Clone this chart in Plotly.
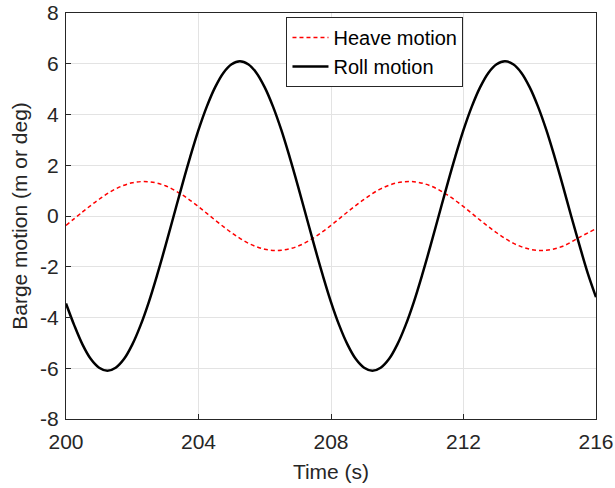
import plotly.graph_objects as go

time_s = [200.0, 200.25, 200.5, 200.75, 201.0, 201.25, 201.5, 201.75, 202.0, 202.25, 202.5,
          202.75, 203.0, 203.25, 203.5, 203.75, 204.0, 204.25, 204.5, 204.75, 205.0, 205.25,
          205.5, 205.75, 206.0, 206.25, 206.5, 206.75, 207.0, 207.25, 207.5, 207.75, 208.0,
          208.25, 208.5, 208.75, 209.0, 209.25, 209.5, 209.75, 210.0, 210.25, 210.5, 210.75,
          211.0, 211.25, 211.5, 211.75, 212.0, 212.25, 212.5, 212.75, 213.0, 213.25, 213.5,
          213.75, 214.0, 214.25, 214.5, 214.75, 215.0, 215.25, 215.5, 215.75, 216.0]
roll = [-3.45, -4.31, -5.07, -5.64, -5.98, -6.1, -5.98, -5.64, -5.07, -4.31, -3.39,
        -2.33, -1.19, 0.0, 1.19, 2.33, 3.39, 4.31, 5.07, 5.64, 5.98, 6.1,
        5.98, 5.64, 5.07, 4.31, 3.39, 2.33, 1.19, 0.0, -1.19, -2.33, -3.39,
        -4.31, -5.07, -5.64, -5.98, -6.1, -5.98, -5.64, -5.07, -4.31, -3.39, -2.33,
        -1.19, 0.0, 1.19, 2.33, 3.39, 4.31, 5.07, 5.64, 5.98, 6.1, 5.98,
        5.64, 5.07, 4.31, 3.39, 2.33, 1.19, 0.0, -1.15, -2.25, -3.2]

heave_t = [200.0, 200.5, 201.0, 201.5, 202.0, 202.5, 203.0, 203.5, 204.0, 204.5,
           205.0, 205.5, 206.0, 206.5, 207.0, 207.5, 208.0, 208.5, 209.0, 209.5,
           210.0, 210.5, 211.0, 211.5, 212.0, 212.5, 213.0, 213.5, 214.0, 214.5,
           215.0, 215.5, 216.0]
heave = [-0.37, 0.16, 0.66, 1.07, 1.31, 1.35, 1.19, 0.84, 0.37, -0.16,
         -0.66, -1.07, -1.31, -1.35, -1.19, -0.84, -0.37, 0.16, 0.66, 1.07,
         1.31, 1.35, 1.19, 0.84, 0.37, -0.16, -0.66, -1.07, -1.31, -1.35,
         -1.19, -0.84, -0.5]

x_ticks = [200, 204, 208, 212, 216]
x_tick_labels = ["200", "204", "208", "212", "216"]
y_ticks = [-8, -6, -4, -2, 0, 2, 4, 6, 8]
y_tick_labels = ["-8", "-6", "-4", "-2", "0", "2", "4", "6", "8"]

fig = go.Figure()
fig.add_trace(go.Scatter(x=heave_t, y=heave, mode="lines", name="Heave motion",
                         line=dict(color="#ff0000", width=1.5, dash="4px,3px", shape="spline")))
fig.add_trace(go.Scatter(x=time_s, y=roll, mode="lines", name="Roll motion",
                         line=dict(color="#000000", width=2.5, shape="spline")))

font = dict(family="Liberation Sans, Arial, sans-serif", size=21, color="#262626")
axis_common = dict(showgrid=True, gridcolor="#e3e3e3", gridwidth=1,
                   showline=True, linecolor="#262626", linewidth=1, mirror=True,
                   ticks="inside", ticklen=5, tickcolor="#262626", zeroline=False,
                   tickfont=font, automargin=False)
fig.update_layout(
    width=615, height=488,
    margin=dict(l=66, r=19, t=13, b=69),
    paper_bgcolor="white", plot_bgcolor="white",
    font=font,
    showlegend=True,
    legend=dict(x=0.416, y=0.99, xanchor="left", yanchor="top",
                bgcolor="white", bordercolor="#262626", borderwidth=1,
                font=dict(family="Liberation Sans, Arial, sans-serif", size=20, color="#000000"),
                tracegroupgap=0, itemwidth=36),
)
fig.update_xaxes(range=[200, 216], tickvals=x_ticks, ticktext=x_tick_labels, ticklabelstandoff=4,
                 title=dict(text="Time (s)", font=font, standoff=12),
                 **axis_common)
fig.update_yaxes(range=[-8, 8], tickvals=y_ticks, ticktext=y_tick_labels, ticklabelstandoff=2,
                 title=dict(text="Barge motion (m or deg)", font=font, standoff=6),
                 **axis_common)

fig.write_html("out.html")
